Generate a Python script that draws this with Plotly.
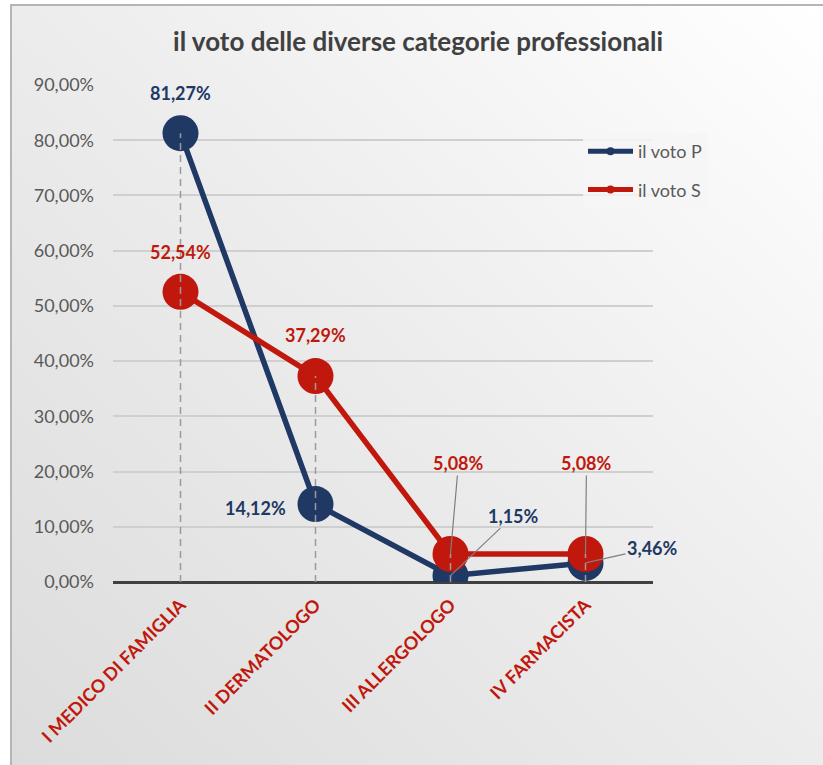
import plotly.graph_objects as go
import base64

categories = ["I MEDICO DI FAMIGLIA", "II DERMATOLOGO", "III ALLERGOLOGO", "IV FARMACISTA"]
voto_p = [0.8127, 0.1412, 0.0115, 0.0346]
voto_s = [0.5254, 0.3729, 0.0508, 0.0508]
y_ticks = [0, 0.1, 0.2, 0.3, 0.4, 0.5, 0.6, 0.7, 0.8, 0.9]

NAVY = "#203864"
RED = "#c0180c"
FONT = "Lato, 'Open Sans', sans-serif"


def pct(v):
    return f"{v*100:.2f}%".replace(".", ",")


fig = go.Figure()

svg = """<svg xmlns='http://www.w3.org/2000/svg' width='100' height='100' preserveAspectRatio='none'>
<defs><linearGradient id='g' x1='1' y1='0' x2='0' y2='1'>
<stop offset='0' stop-color='#ffffff'/><stop offset='0.5' stop-color='#ececec'/><stop offset='1' stop-color='#dcdcdc'/>
</linearGradient></defs><rect width='100' height='100' fill='url(#g)'/></svg>"""
uri = "data:image/svg+xml;base64," + base64.b64encode(svg.encode()).decode()

W, H = 823, 765
L, R, T, B = 113, 170, 85, 183
pw, ph = W - L - R, H - T - B


def px_x(p):
    return (p - L) / pw


def px_y(p):
    return (H - B - p) / ph


fig.add_layout_image(dict(source=uri, xref="paper", yref="paper",
                          x=px_x(11), y=px_y(5), sizex=px_x(823) - px_x(11),
                          sizey=px_y(5) - px_y(765), sizing="stretch",
                          xanchor="left", yanchor="top", layer="below"))
fig.add_shape(type="rect", xref="paper", yref="paper",
              x0=px_x(11), x1=px_x(830), y0=px_y(5), y1=px_y(770),
              line=dict(color="#b5b5b5", width=2), fillcolor="rgba(0,0,0,0)", layer="below")

# data lines
fig.add_trace(go.Scatter(x=categories, y=voto_p, mode="lines+markers", name="il voto P",
                         line=dict(color=NAVY, width=5.5),
                         marker=dict(size=36, color=NAVY), showlegend=False))
fig.add_trace(go.Scatter(x=categories, y=voto_s, mode="lines+markers", name="il voto S",
                         line=dict(color=RED, width=5.5),
                         marker=dict(size=36, color=RED), showlegend=False))

# drop lines (from highest point to axis)
dx, dy = [], []
for c, p, s in zip(categories, voto_p, voto_s):
    dx += [c, c, None]
    dy += [0, max(p, s), None]
fig.add_trace(go.Scatter(x=dx, y=dy, mode="lines", line=dict(color="#9a9a9a", width=1.5, dash="7px,5px"),
                         showlegend=False, hoverinfo="skip"))

# legend entries
fig.add_trace(go.Scatter(x=[None], y=[None], mode="lines+markers", name="il voto P", legendgroup="p",
                         line=dict(color=NAVY, width=5), marker=dict(size=8, color=NAVY)))
fig.add_trace(go.Scatter(x=[None], y=[None], mode="lines+markers", name="il voto S", legendgroup="s",
                         line=dict(color=RED, width=5), marker=dict(size=8, color=RED)))

lab_font_p = dict(family=FONT, size=18, color=NAVY)
lab_font_s = dict(family=FONT, size=18, color=RED)
arr = dict(showarrow=True, arrowhead=0, arrowwidth=1.2, arrowcolor="#7f7f7f", standoff=0)

# S labels
fig.add_annotation(x=categories[0], y=voto_s[0], text=f"<b>{pct(voto_s[0])}</b>", showarrow=False, yshift=40, font=lab_font_s)
fig.add_annotation(x=categories[1], y=voto_s[1], text=f"<b>{pct(voto_s[1])}</b>", showarrow=False, yshift=41, font=lab_font_s)
fig.add_annotation(x=categories[2], y=voto_s[2], text=f"<b>{pct(voto_s[2])}</b>", ax=8, ay=-91, font=lab_font_s, **arr)
fig.add_annotation(x=categories[3], y=voto_s[3], text=f"<b>{pct(voto_s[3])}</b>", ax=1, ay=-91, font=lab_font_s, **arr)
# P labels
fig.add_annotation(x=categories[0], y=voto_p[0], text=f"<b>{pct(voto_p[0])}</b>", showarrow=False, yshift=40, font=lab_font_p)
fig.add_annotation(x=categories[1], y=voto_p[1], text=f"<b>{pct(voto_p[1])}</b>", showarrow=False, xshift=-60, yshift=-4, font=lab_font_p)
fig.add_annotation(x=categories[2], y=voto_p[2], text=f"<b>{pct(voto_p[2])}</b>", ax=63, ay=-60, font=lab_font_p, **arr)
fig.add_annotation(x=categories[3], y=voto_p[3], text=f"<b>{pct(voto_p[3])}</b>", ax=67, ay=-15, font=lab_font_p, **arr)

fig.update_layout(
    width=W, height=H,
    margin=dict(l=L, r=R, t=T, b=B, pad=0),
    paper_bgcolor="white",
    plot_bgcolor="rgba(0,0,0,0)",
    separators=",.",
    font=dict(family=FONT, color="#595959"),
    title=dict(text="<b>il voto delle diverse categorie professionali</b>", x=0.508, xanchor="center",
               y=1 - 42 / H, yanchor="middle", font=dict(family=FONT, size=26, color="#404040")),
    legend=dict(x=px_x(583), y=px_y(133), xanchor="left", yanchor="top",
                bgcolor="rgba(246,246,246,0.85)", font=dict(family=FONT, size=18, color="#595959"),
                tracegroupgap=12, itemwidth=45),
    showlegend=True,
    xaxis=dict(type="category", categoryorder="array", categoryarray=categories,
               range=[-0.5, 3.5], showgrid=False, zeroline=False, showline=False,
               tickangle=-45, tickfont=dict(family=FONT, size=18, color=RED, weight="bold"),
               ticks="", ticklabelstandoff=8, fixedrange=True),
    yaxis=dict(range=[0, 0.9], tickvals=y_ticks, tickformat=".2%",
               showgrid=True, gridcolor="#cfcfcf", gridwidth=2,
               zeroline=True, zerolinecolor="#404040", zerolinewidth=3,
               showline=False, ticks="", ticklabelstandoff=18,
               tickfont=dict(family=FONT, size=18, color="#595959")),
)

fig.write_html("out.html", config={"displayModeBar": False},
               post_script="document.body.style.margin='0';document.body.style.overflow='hidden';")
